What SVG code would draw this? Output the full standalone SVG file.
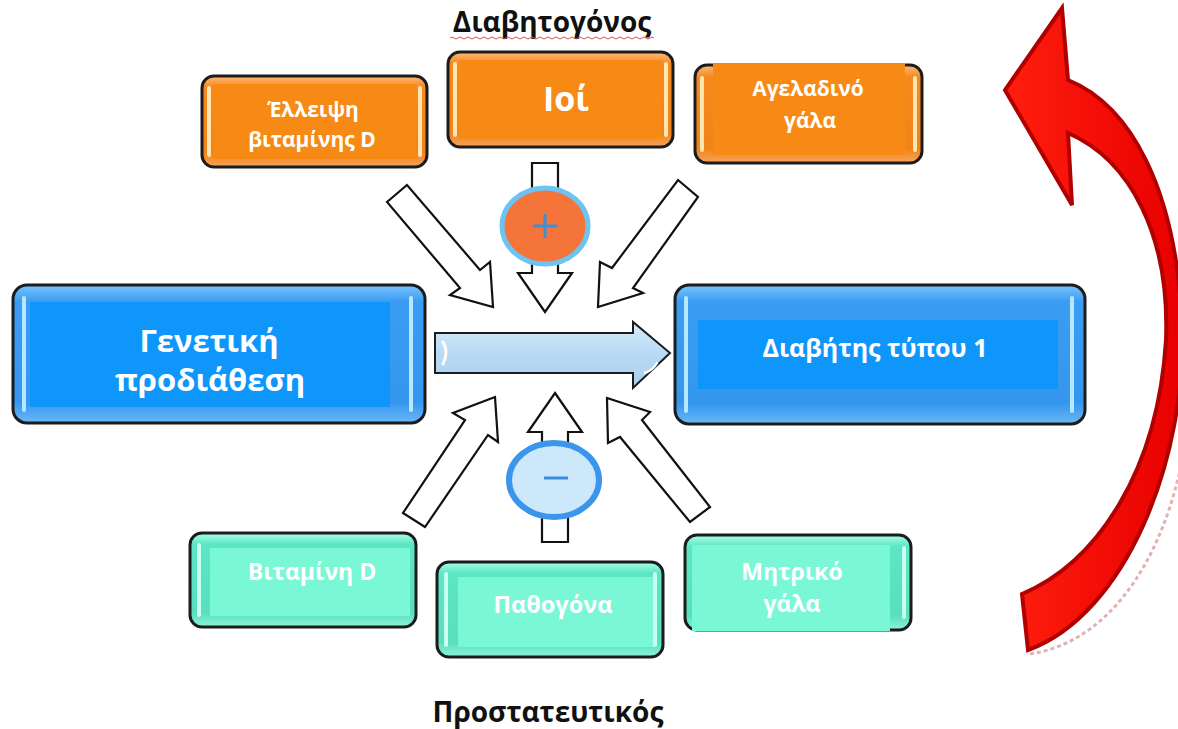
<svg xmlns="http://www.w3.org/2000/svg" width="1178" height="729" viewBox="0 0 1178 729">
<defs>
<linearGradient id="gO" x1="0" y1="0" x2="0" y2="1">
<stop offset="0" stop-color="#ffb978"/><stop offset="0.12" stop-color="#f58a22"/><stop offset="0.85" stop-color="#f08418"/><stop offset="1" stop-color="#f6a35c"/>
</linearGradient>
<linearGradient id="gB" x1="0" y1="0" x2="0" y2="1">
<stop offset="0" stop-color="#7cc4ff"/><stop offset="0.12" stop-color="#3a9cf2"/><stop offset="0.85" stop-color="#3596ee"/><stop offset="1" stop-color="#6ab8f8"/>
</linearGradient>
<linearGradient id="gT" x1="0" y1="0" x2="0" y2="1">
<stop offset="0" stop-color="#a9ffe9"/><stop offset="0.12" stop-color="#5ce6c4"/><stop offset="0.85" stop-color="#58e0be"/><stop offset="1" stop-color="#8ef3da"/>
</linearGradient>
<linearGradient id="gA" x1="0" y1="0" x2="0" y2="1">
<stop offset="0" stop-color="#d6ebfb"/><stop offset="0.5" stop-color="#b7d9f4"/><stop offset="1" stop-color="#a9d0f0"/>
</linearGradient>
<linearGradient id="gR" x1="0" y1="0" x2="1" y2="0">
<stop offset="0" stop-color="#ff1e0e"/><stop offset="1" stop-color="#e80000"/>
</linearGradient>
</defs>
<style>
.box{stroke:#1c1c1c;stroke-width:3}
.o{fill:url(#gO)} .oi{fill:#f78a14}
.b{fill:url(#gB)} .bi{fill:#0f96fb}
.t{fill:url(#gT)} .ti{fill:#7af8d6}
.hlO{stroke:#ffe6b0;stroke-width:4;stroke-linecap:round}
.hlB{stroke:#b8e8ff;stroke-width:4;stroke-linecap:round}
.hlT{stroke:#c8fff0;stroke-width:4;stroke-linecap:round}
text{font-family:"Open Sans","Noto Sans","DejaVu Sans",sans-serif;font-weight:700;text-anchor:middle}
.w{fill:#ffffff}
.k{fill:#111111}
.arr{fill:#ffffff;stroke:#111111;stroke-width:2.2;stroke-linejoin:miter}
</style>
<rect width="1178" height="729" fill="#ffffff"/>

<!-- titles -->
<g id="title-top">
<text class="k" x="552" y="32" font-size="28">Διαβητογόνος</text>
<path d="M450 38 q2 -2 4 0 t4 0 t4 0 t4 0 t4 0 t4 0 t4 0 t4 0 t4 0 t4 0 t4 0 t4 0 t4 0 t4 0 t4 0 t4 0 t4 0 t4 0 t4 0 t4 0 t4 0 t4 0 t4 0 t4 0 t4 0 t4 0 t4 0 t4 0 t4 0 t4 0 t4 0 t4 0 t4 0 t4 0 t4 0 t4 0 t4 0 t4 0 t4 0 t4 0 t4 0 t4 0 t4 0 t4 0 t4 0 t4 0 t4 0 t4 0 t4 0 t4 0 t4 0" fill="none" stroke="#e05050" stroke-width="1"/>
</g>
<g id="title-bottom">
<text class="k" x="548" y="722" font-size="28">Προστατευτικός</text>
</g>

<!-- connectors -->
<g id="connectors">
<path class="arr" d="M387 202 L407 185 L480 270 L490 262 L493 307 L450 295 L460 288 Z"/>
<path class="arr" d="M678 180 L698 197 L633 288 L643 293 L598 307 L600 262 L612 268 Z"/>
<path class="arr" d="M403 513 L425 527 L488 435 L498 442 L495 397 L453 413 L465 420 Z"/>
<path class="arr" d="M710 507 L690 522 L620 437 L608 443 L607 398 L650 412 L642 420 Z"/>
<path class="arr" d="M532 163 L558 163 L558 273 L572 273 L545 312 L518 273 L532 273 Z"/>
<path class="arr" d="M555 393 L582 432 L568 432 L568 542 L542 542 L542 432 L528 432 Z"/>
<path d="M435 333 L633 333 L633 322 L670 353 L633 388 L633 373 L435 373 Z" fill="url(#gA)" stroke="#1c1c1c" stroke-width="2"/>
<path d="M443 342 q6 10 0 22" fill="none" stroke="#ffffff" stroke-width="3" stroke-linecap="round"/>
<path d="M645 373 q8 -3 12 -10" fill="none" stroke="#ffffff" stroke-width="2.5" stroke-linecap="round"/>
<path d="M1062 8 L1068 80 C1132 106 1175 190 1182 320 C1188 460 1125 615 1028 650 L1022 594 C1098 562 1158 470 1166 340 C1170 235 1130 160 1068 133 L1072 205 L1005 90 Z" fill="url(#gR)" stroke="#b00000" stroke-width="4" stroke-linejoin="miter"/>
<path d="M1030 654 C1110 642 1160 560 1180 470" fill="none" stroke="#c98080" stroke-width="3" stroke-dasharray="4 3" opacity="0.6"/>
</g>

<!-- plus / minus -->
<g id="plus">
<ellipse cx="545" cy="226" rx="43" ry="38" fill="#f5743a" stroke="#6cc4f2" stroke-width="5"/>
<path d="M545 214 V238 M533 226 H557" stroke="#3d8fd6" stroke-width="3"/>
</g>
<g id="minus">
<ellipse cx="554" cy="480" rx="45" ry="37" fill="#cde7fb" stroke="#3b95ea" stroke-width="6"/>
<path d="M544 478 H568" stroke="#3b8fe0" stroke-width="3"/>
</g>

<!-- top nodes -->
<g id="n-ellipsi">
<rect class="box o" x="202" y="76" width="225" height="91" rx="12"/>
<rect class="oi" x="213" y="84" width="203" height="75"/>
<line class="hlO" x1="209" y1="88" x2="209" y2="155"/><line class="hlO" x1="420" y1="88" x2="420" y2="155"/>
<text class="w" x="313" y="117" font-size="21">Έλλειψη</text>
<text class="w" x="312" y="147" font-size="21">βιταμίνης D</text>
</g>
<g id="n-ioi">
<rect class="box o" x="448" y="52" width="225" height="95" rx="12"/>
<rect class="oi" x="459" y="60" width="203" height="79"/>
<line class="hlO" x1="455" y1="64" x2="455" y2="135"/><line class="hlO" x1="666" y1="64" x2="666" y2="135"/>
<text class="w" x="566" y="111" font-size="34">Ιοί</text>
</g>
<g id="n-ageladino">
<rect class="box o" x="695" y="65" width="227" height="98" rx="12"/>
<rect class="oi" x="713" y="63" width="192" height="92"/>
<line class="hlO" x1="702" y1="78" x2="702" y2="150"/><line class="hlO" x1="915" y1="78" x2="915" y2="150"/>
<text class="w" x="808" y="96" font-size="21">Αγελαδινό</text>
<text class="w" x="810" y="128" font-size="21">γάλα</text>
</g>

<!-- middle nodes -->
<g id="n-genetiki">
<rect class="box b" x="13" y="285" width="412" height="138" rx="14"/>
<rect class="bi" x="30" y="302" width="360" height="105"/>
<line class="hlB" x1="24" y1="298" x2="24" y2="410"/><line class="hlB" x1="411" y1="298" x2="411" y2="410"/>
<text class="w" x="209" y="352" font-size="31">Γενετική</text>
<text class="w" x="210" y="391" font-size="31">προδιάθεση</text>
</g>
<g id="n-diavitis">
<rect class="box b" x="675" y="285" width="410" height="139" rx="14"/>
<rect class="bi" x="698" y="320" width="360" height="69"/>
<line class="hlB" x1="686" y1="298" x2="686" y2="411"/><line class="hlB" x1="1072" y1="298" x2="1072" y2="411"/>
<text class="w" x="875" y="357" font-size="25">Διαβήτης τύπου 1</text>
</g>

<!-- bottom nodes -->
<g id="n-vitamini">
<rect class="box t" x="190" y="533" width="226" height="94" rx="12"/>
<rect class="ti" x="210" y="548" width="200" height="68"/>
<line class="hlT" x1="199" y1="545" x2="199" y2="615"/>
<text class="w" x="312" y="580" font-size="23">Βιταμίνη D</text>
</g>
<g id="n-pathogona">
<rect class="box t" x="437" y="562" width="226" height="95" rx="12"/>
<rect class="ti" x="458" y="577" width="196" height="70"/>
<line class="hlT" x1="446" y1="574" x2="446" y2="645"/><line class="hlT" x1="655" y1="574" x2="655" y2="645"/>
<text class="w" x="553" y="613" font-size="23.5">Παθογόνα</text>
</g>
<g id="n-mitriko">
<rect class="box t" x="685" y="535" width="226" height="95" rx="12"/>
<rect class="ti" x="692" y="545" width="198" height="86"/>
<line class="hlT" x1="904" y1="548" x2="904" y2="617"/>
<text class="w" x="792" y="580" font-size="23">Μητρικό</text>
<text class="w" x="792" y="612" font-size="23">γάλα</text>
</g>
</svg>
